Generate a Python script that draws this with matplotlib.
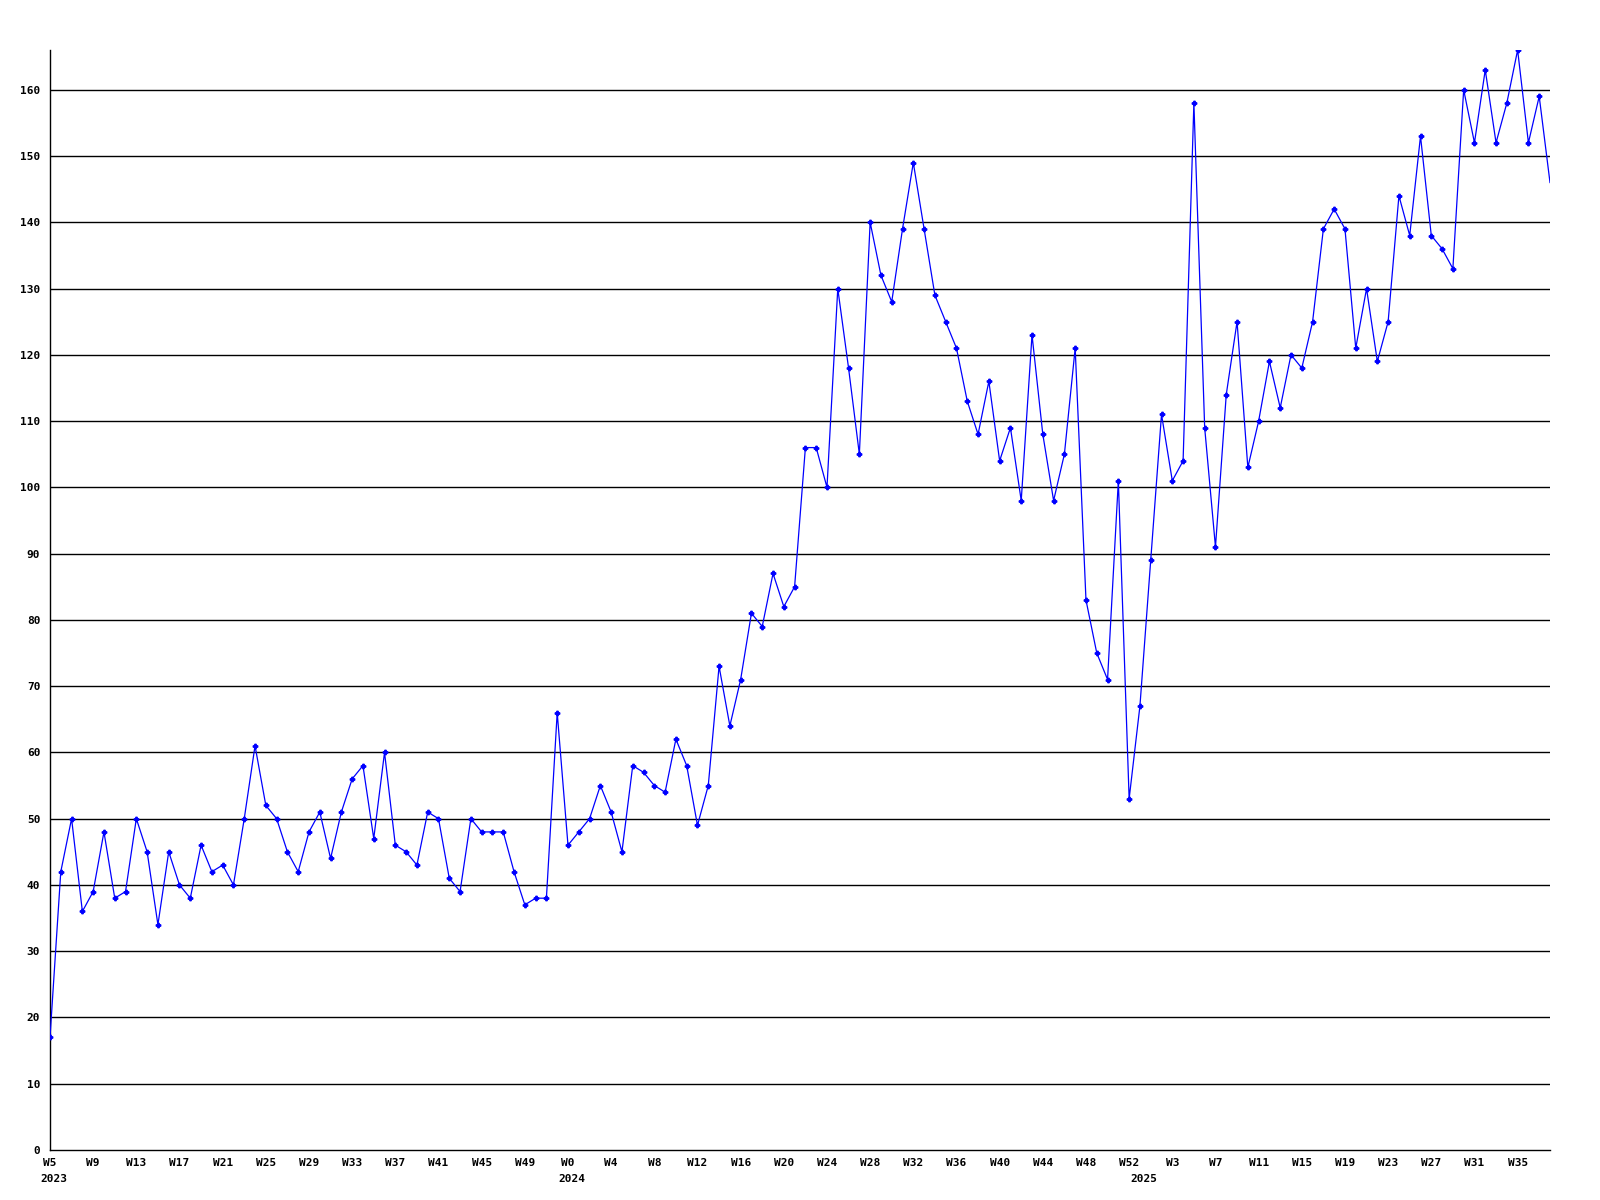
import matplotlib
matplotlib.use("Agg")
import matplotlib.pyplot as plt
import numpy as np

# weekly counts, W5 2023 .. W38 2025
values = [17, 42, 50, 36, 39, 48, 38, 39, 50, 45, 34, 45, 40, 38, 46, 42, 43, 40, 50, 61,
          52, 50, 45, 42, 48, 51, 44, 51, 56, 58, 47, 60, 46, 45, 43, 51, 50, 41, 39, 50,
          48, 48, 48, 42, 37, 38, 38, 66, 46, 48, 50, 55, 51, 45, 58, 57, 55, 54, 62, 58,
          49, 55, 73, 64, 71, 81, 79, 87, 82, 85, 106, 106, 100, 130, 118, 105, 140, 132, 128, 139,
          149, 139, 129, 125, 121, 113, 108, 116, 104, 109, 98, 123, 108, 98, 105, 121, 83, 75, 71, 101,
          53, 67, 89, 111, 101, 104, 158, 109, 91, 114, 125, 103, 110, 119, 112, 120, 118, 125, 139, 142,
          139, 121, 130, 119, 125, 144, 138, 153, 138, 136, 133, 160, 152, 163, 152, 158, 166, 152, 159, 146]

week_labels = ["W5", "W9", "W13", "W17", "W21", "W25", "W29", "W33", "W37", "W41", "W45", "W49",
               "W0", "W4", "W8", "W12", "W16", "W20", "W24", "W28", "W32", "W36", "W40", "W44", "W48", "W52",
               "W3", "W7", "W11", "W15", "W19", "W23", "W27", "W31", "W35"]
years = ["2023", "2024", "2025"]
year_start = [0, 48, 101]  # index of first week of each year

x = np.arange(len(values))

plt.rcParams['font.family'] = ['DejaVu Sans Mono']
plt.rcParams['font.weight'] = 'bold'
plt.rcParams['font.size'] = 8

fig = plt.figure(figsize=(16, 12), dpi=100)
ax = fig.add_axes([50 / 1600, 50 / 1200, 1500 / 1600, 1100 / 1200])

for v in range(10, 170, 10):
    ax.axhline(v, color='black', lw=1, zorder=1)

ax.plot(x, values, color='#0000ff', lw=0.9, zorder=3)
ax.plot(x[:-1], values[:-1], ls='none', marker='P', ms=3.2, color='#0000ff', zorder=4)

ax.set_xlim(0, len(values) - 1)
ax.set_ylim(0, max(values))
ax.set_yticks(range(0, 170, 10))
ax.set_xticks(x[::4])
ax.set_xticklabels(week_labels)
ax.tick_params(length=0)
ax.tick_params(axis='x', pad=6)
ax.tick_params(axis='y', pad=7)

for s in ['top', 'right']:
    ax.spines[s].set_visible(False)
for s in ['left', 'bottom']:
    ax.spines[s].set_color('black')
    ax.spines[s].set_linewidth(1)

for yr, i in zip(years, year_start):
    ax.annotate(yr, xy=(i, 0), xycoords=('data', 'axes fraction'),
                xytext=(-10, -24), textcoords='offset pixels',
                ha='left', va='top', annotation_clip=False)

plt.savefig("out.png", dpi=100, facecolor='white')
